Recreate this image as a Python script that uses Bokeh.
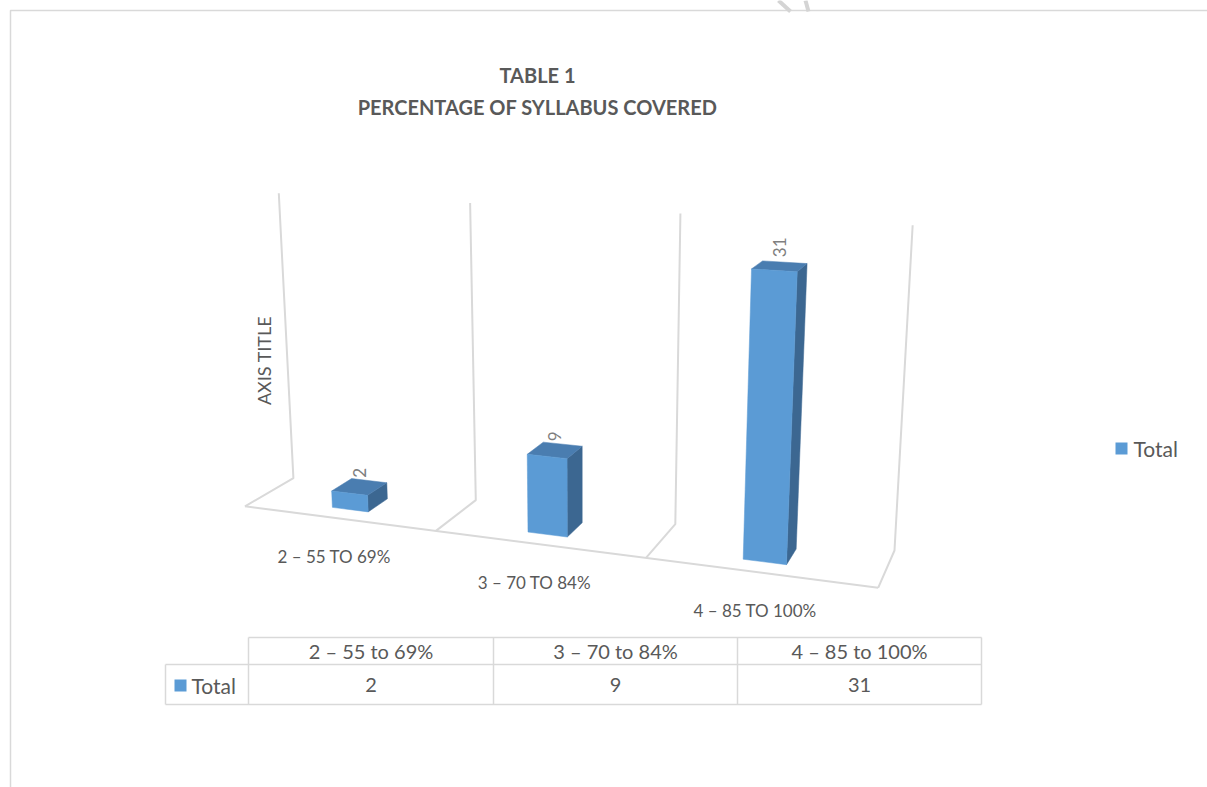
import numpy as np
from bokeh.plotting import figure
from bokeh.models import Range1d
from bokeh.core.properties import value
from bokeh.embed import file_html
from bokeh.resources import INLINE

# ---------------- data ----------------
axis_categories = ["2 – 55 TO 69%", "3 – 70 TO 84%", "4 – 85 TO 100%"]
table_categories = ["2 – 55 to 69%", "3 – 70 to 84%", "4 – 85 to 100%"]
totals = [2, 9, 31]
series_name = "Total"
title_lines = ["TABLE 1", "PERCENTAGE OF SYLLABUS COVERED"]
axis_title = "AXIS TITLE"
value_axis_max = 35

# ---------------- layout / style ----------------
W, H = 1207, 787
FONT = "Lato"
TXT = "#595959"
GRID = "#d9d9d9"
FRONT, TOP, SIDE = "#5b9bd5", "#4a7db0", "#3c6791"

# perspective calibration: world (category position, height fraction, depth) -> screen px
CAL_WORLD = [(0, 0, 0), (1, 0, 0), (2, 0, 0), (3, 0, 0),
             (0, 0, 1), (1, 0, 1), (2, 0, 1), (3, 0, 1),
             (0, 1, 1), (1, 1, 1), (2, 1, 1), (3, 1, 1)]
CAL_SCREEN = [(244, 505), (436, 530), (646, 558), (877, 588),
              (293, 478), (475, 500), (675, 523), (894, 550),
              (278, 193), (470, 203), (680, 213), (912, 224)]
BAR_X0, BAR_X1 = 0.40, 0.59     # bar extent inside its category slot
BAR_Z0, BAR_Z1 = 0.28, 0.72     # bar extent in depth


def fit_projection(world, screen):
    rows = []
    for (X, Y, Z), (u, v) in zip(world, np.asarray(screen, float) / 1000.0):
        rows.append([X, Y, Z, 1, 0, 0, 0, 0, -u * X, -u * Y, -u * Z, -u])
        rows.append([0, 0, 0, 0, X, Y, Z, 1, -v * X, -v * Y, -v * Z, -v])
    _, _, vt = np.linalg.svd(np.array(rows, float))
    return vt[-1].reshape(3, 4)


P = fit_projection(CAL_WORLD, CAL_SCREEN)


def proj(X, Y, Z):
    X, Y, Z = np.broadcast_arrays(np.asarray(X, float), np.asarray(Y, float), np.asarray(Z, float))
    hom = P @ np.vstack([X.ravel(), Y.ravel(), Z.ravel(), np.ones(X.size)])
    return list(hom[0] / hom[2] * 1000.0), list(hom[1] / hom[2] * 1000.0)


p = figure(width=W, height=H, x_range=Range1d(0, W), y_range=Range1d(H, 0),
           output_backend="svg", toolbar_location=None, min_border=0,
           x_axis_type=None, y_axis_type=None)
p.grid.visible = False
p.outline_line_color = None
p.background_fill_color = "white"
p.border_fill_color = "white"

# chart-area border and watermark fragment
p.line([10, 10, W], [H, 10, 10], line_color="#d9d9d9", line_width=1.5)
p.segment(x0=[778, 805], y0=[0, 0], x1=[790, 808], y1=[11, 11],
          line_color="#d4d4d4", line_width=4)

# floor / back-wall category gridlines
n = len(totals)
gx, gy = [], []
fx, fy = proj([0, n], [0, 0], [0, 0])
gx.append(fx); gy.append(fy)
for k in range(n + 1):
    xs, ys = proj([k, k, k], [0, 0, 1], [0, 1, 1])
    gx.append(xs); gy.append(ys)
p.multi_line(gx, gy, line_color=GRID, line_width=2)

# 3D bars
faces_x, faces_y, faces_c = [], [], []
label_x, label_y = [], []
for i, v in enumerate(totals):
    h = v / value_axis_max
    a, b = i + BAR_X0, i + BAR_X1
    sx, sy = proj([b, b, b, b], [0, h, h, 0], [BAR_Z0, BAR_Z0, BAR_Z1, BAR_Z1])
    tx, ty = proj([a, b, b, a], [h, h, h, h], [BAR_Z0, BAR_Z0, BAR_Z1, BAR_Z1])
    ffx, ffy = proj([a, b, b, a], [0, 0, h, h], [BAR_Z0] * 4)
    faces_x += [sx, tx, ffx]
    faces_y += [sy, ty, ffy]
    faces_c += [SIDE, TOP, FRONT]
    lx, ly = proj([(a + b) / 2], [h], [(BAR_Z0 + BAR_Z1) / 2])
    label_x.append(lx[0]); label_y.append(ly[0] - 9)
p.patches(faces_x, faces_y, fill_color=faces_c, line_color=faces_c, line_width=0.5)

p.text(label_x, label_y, text=[str(v) for v in totals], angle=np.pi / 2,
       text_align="left", text_baseline="middle", text_color="#7f7f7f",
       text_font=value(FONT), text_font_size="17px")

# category labels under the floor
cx, cy = proj([i + 0.5 for i in range(n)], [0] * n, [0] * n)
p.text([x - 4 for x in cx], [y + 38 for y in cy], text=axis_categories,
       text_align="center", text_baseline="middle", text_color=TXT,
       text_font=value(FONT), text_font_size="17px")

# axis title
p.text([263], [360], text=[axis_title], angle=np.pi / 2, text_align="center",
       text_baseline="middle", text_color=TXT, text_font=value(FONT), text_font_size="18px")

# chart title
p.text([537, 537], [74, 106], text=title_lines, text_align="center", text_baseline="middle",
       text_color=TXT, text_font=value(FONT), text_font_size="20px", text_font_style="bold")

# legend (right)
p.quad(left=[1115], right=[1127], top=[442], bottom=[454], fill_color=FRONT, line_color=None)
p.text([1133], [448], text=[series_name], text_align="left", text_baseline="middle",
       text_color=TXT, text_font=value(FONT), text_font_size="21px")

# data table
col_edges = [248, 493, 737, 981]
tbl_left, row_top, row_mid, row_bot = 165, 637, 664, 704
seg_x0 = [col_edges[0], tbl_left, tbl_left, tbl_left] + col_edges
seg_x1 = [col_edges[-1], col_edges[-1], col_edges[-1], tbl_left] + col_edges
seg_y0 = [row_top, row_mid, row_bot, row_mid] + [row_top] * len(col_edges)
seg_y1 = [row_top, row_mid, row_bot, row_bot] + [row_bot] * len(col_edges)
p.segment(seg_x0, seg_y0, seg_x1, seg_y1, line_color=GRID, line_width=1.5)
centers = [(col_edges[k] + col_edges[k + 1]) / 2 for k in range(n)]
p.text(centers, [(row_top + row_mid) / 2] * n, text=table_categories, text_align="center",
       text_baseline="middle", text_color=TXT, text_font=value(FONT), text_font_size="20px")
p.text(centers, [(row_mid + row_bot) / 2] * n, text=[str(v) for v in totals], text_align="center",
       text_baseline="middle", text_color=TXT, text_font=value(FONT), text_font_size="20px")
p.quad(left=[174], right=[186], top=[679], bottom=[691], fill_color=FRONT, line_color=None)
p.text([191], [685], text=[series_name], text_align="left", text_baseline="middle",
       text_color=TXT, text_font=value(FONT), text_font_size="21px")

open("out.html", "w").write(file_html(p, INLINE))
